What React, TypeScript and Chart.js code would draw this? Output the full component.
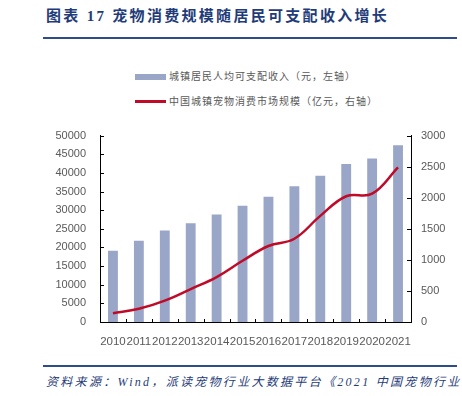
import React, { useEffect, useRef } from "react";
import { Chart, registerables } from "chart.js";

Chart.register(...registerables);

const years = ["2010", "2011", "2012", "2013", "2014", "2015", "2016", "2017", "2018", "2019", "2020", "2021"];
const incomeValues = [19109, 21810, 24565, 26467, 28844, 31195, 33616, 36396, 39251, 42359, 43834, 47412];
const petMarketValues = [140, 212, 344, 530, 723, 985, 1223, 1340, 1708, 2024, 2065, 2490];
const leftTicks = [0, 5000, 10000, 15000, 20000, 25000, 30000, 35000, 40000, 45000, 50000];
const rightTicks = [0, 500, 1000, 1500, 2000, 2500, 3000];

const incomeLabel = "城镇居民人均可支配收入（元，左轴）";
const marketLabel = "中国城镇宠物消费市场规模（亿元，右轴）";
const titleText = "图表 17 宠物消费规模随居民可支配收入增长";
const sourceText = "资料来源：Wind，派读宠物行业大数据平台《2021 中国宠物行业";

const BAR_COLOR = "#9AA6C8";
const LINE_COLOR = "#BF0A28";
const NAVY = "#1F3C78";
const GRAY = "#595959";

const innerTicks = {
  id: "innerTicks",
  afterDatasetsDraw(chart: any) {
    const { ctx, chartArea, scales } = chart;
    ctx.save();
    ctx.strokeStyle = "#000";
    ctx.lineWidth = 1;
    ctx.beginPath();
    const yl = scales.y;
    for (const v of leftTicks) {
      const py = Math.round(yl.getPixelForValue(v)) + 0.5;
      ctx.moveTo(chartArea.left, py);
      ctx.lineTo(chartArea.left + 4, py);
    }
    const yr = scales.y1;
    for (const v of rightTicks) {
      const py = Math.round(yr.getPixelForValue(v)) + 0.5;
      ctx.moveTo(chartArea.right - 4, py);
      ctx.lineTo(chartArea.right, py);
    }
    const xs = scales.x;
    const n = years.length;
    const step = (chartArea.right - chartArea.left) / n;
    for (let i = 1; i < n; i++) {
      const px = Math.round(xs.getPixelForValue(i) - step / 2) + 0.5;
      ctx.moveTo(px, chartArea.bottom);
      ctx.lineTo(px, chartArea.bottom - 3);
    }
    ctx.stroke();
    ctx.restore();
  },
};

export default function App() {
  const canvasRef = useRef<HTMLCanvasElement | null>(null);

  useEffect(() => {
    if (!canvasRef.current) return;
    const tickFont = { family: "'Liberation Sans', Arial, sans-serif", size: 11 };
    const plain = (v: any) => String(v);
    const chart = new Chart(canvasRef.current, {
      type: "bar",
      data: {
        labels: years,
        datasets: [
          {
            type: "line",
            label: marketLabel,
            data: petMarketValues,
            yAxisID: "y1",
            borderColor: LINE_COLOR,
            backgroundColor: LINE_COLOR,
            borderWidth: 2.5,
            pointRadius: 0,
            tension: 0.4,
            order: 0,
          } as any,
          {
            type: "bar",
            label: incomeLabel,
            data: incomeValues,
            yAxisID: "y",
            backgroundColor: BAR_COLOR,
            barPercentage: 0.38,
            categoryPercentage: 1,
            order: 1,
          },
        ],
      },
      options: {
        animation: false,
        responsive: false,
        maintainAspectRatio: false,
        layout: { padding: { top: 9, left: 0, right: 0, bottom: 0 } },
        plugins: { legend: { display: false }, tooltip: { enabled: false } },
        scales: {
          x: {
            grid: { display: false },
            border: { display: true, color: "#000", width: 1 },
            ticks: {
              autoSkip: false,
              maxRotation: 0,
              minRotation: 0,
              padding: 5,
              color: GRAY,
              font: { family: "'Liberation Sans', Arial, sans-serif", size: 11.5 },
            },
            afterFit(scale: any) {
              scale.height = 28;
            },
          },
          y: {
            position: "left",
            min: 0,
            max: 50000,
            grid: { display: false, drawTicks: false },
            border: { display: true, color: "#000", width: 1 },
            ticks: { stepSize: 5000, padding: 14, color: GRAY, font: tickFont, callback: plain },
            afterFit(scale: any) {
              scale.width = 60;
            },
          },
          y1: {
            position: "right",
            min: 0,
            max: 3000,
            grid: { display: false, drawTicks: false },
            border: { display: true, color: "#000", width: 1 },
            ticks: { stepSize: 500, padding: 10, color: GRAY, font: tickFont, callback: plain },
            afterFit(scale: any) {
              scale.width = 49;
            },
          },
        },
      },
      plugins: [innerTicks],
    });
    return () => chart.destroy();
  }, []);

  return (
    <div
      style={{
        position: "fixed",
        left: 0,
        top: 0,
        width: 462,
        height: 396,
        background: "#fff",
        overflow: "hidden",
      }}
    >
      <div
        style={{
          position: "absolute",
          left: 46,
          top: 6,
          height: 20,
          lineHeight: "20px",
          fontFamily: "'Liberation Serif', 'Noto Sans CJK SC', serif",
          fontWeight: 700,
          fontSize: 15,
          letterSpacing: 2.3,
          color: NAVY,
          whiteSpace: "nowrap",
        }}
      >
        {titleText}
      </div>
      <div style={{ position: "absolute", left: 43, top: 37, width: 414, height: 2, background: "#2E4C8C" }} />

      <div style={{ position: "absolute", left: 135, top: 74, width: 31, height: 6, background: BAR_COLOR }} />
      <div
        style={{
          position: "absolute",
          left: 169,
          top: 69,
          height: 14,
          lineHeight: "14px",
          fontFamily: "'Noto Sans CJK SC', sans-serif",
          fontSize: 10,
          letterSpacing: 1,
          color: GRAY,
          whiteSpace: "nowrap",
        }}
      >
        {incomeLabel}
      </div>
      <div style={{ position: "absolute", left: 135, top: 100, width: 31, height: 2.5, background: LINE_COLOR }} />
      <div
        style={{
          position: "absolute",
          left: 169,
          top: 94,
          height: 14,
          lineHeight: "14px",
          fontFamily: "'Noto Sans CJK SC', sans-serif",
          fontSize: 10,
          letterSpacing: 1,
          color: GRAY,
          whiteSpace: "nowrap",
        }}
      >
        {marketLabel}
      </div>

      <canvas
        ref={canvasRef}
        width={420}
        height={235}
        style={{ position: "absolute", left: 40, top: 115, width: 420, height: 235 }}
      />

      <div style={{ position: "absolute", left: 43, top: 365, width: 414, height: 2, background: "#2E4C8C" }} />
      <div
        style={{
          position: "absolute",
          left: 46,
          top: 373,
          height: 18,
          lineHeight: "18px",
          fontFamily: "'Liberation Serif', 'Noto Sans CJK SC', serif",
          fontStyle: "italic",
          fontSize: 12,
          letterSpacing: 2.3,
          color: NAVY,
          whiteSpace: "nowrap",
        }}
      >
        {sourceText}
      </div>
    </div>
  );
}
